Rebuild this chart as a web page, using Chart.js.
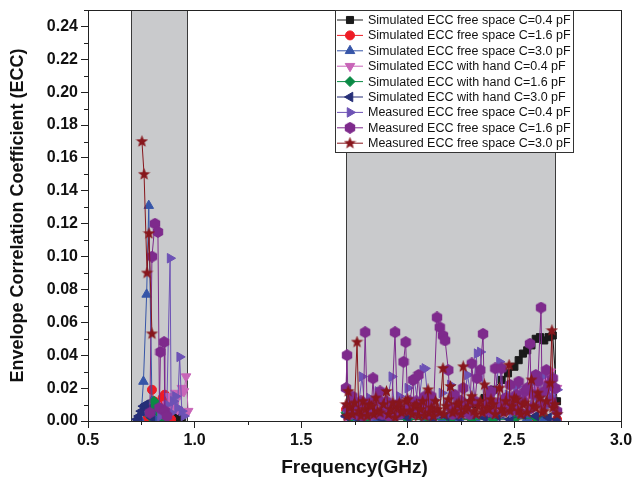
<!DOCTYPE html>
<html>
<head>
<meta charset="utf-8">
<script src="https://cdn.jsdelivr.net/npm/chart.js@4.4.1/dist/chart.umd.min.js"></script>
<style>
html, body { margin: 0; padding: 0; background: #fff; }
</style>
</head>
<body>
<canvas id="eccChart" width="632" height="483"></canvas>
<script>
// series names (legend order)
var seriesNames = [
    'Simulated ECC free space C=0.4 pF',
    'Simulated ECC free space C=1.6 pF',
    'Simulated ECC free space C=3.0 pF',
    'Simulated ECC with hand C=0.4 pF',
    'Simulated ECC with hand C=1.6 pF',
    'Simulated ECC with hand C=3.0 pF',
    'Measured ECC free space C=0.4 pF',
    'Measured ECC free space C=1.6 pF',
    'Measured ECC free space C=3.0 pF'
];

// axis ticks
var xTickValues = [0.5, 1.0, 1.5, 2.0, 2.5, 3.0];
var yTickValues = [0, 0.02, 0.04, 0.06, 0.08, 0.10, 0.12, 0.14, 0.16, 0.18, 0.20, 0.22, 0.24];

// shaded operating bands (GHz)
var bandStart = [0.70, 1.71];
var bandEnd = [0.965, 2.69];

// null = gap between the two bands
var freqSimFree04 = [0.84, 0.86, 0.88, 0.90, 0.92, 0.94, 1.3, 1.72, 1.80, 1.90, 2.00, 2.10, 2.20, 2.26, 2.32, 2.36, 2.40, 2.44, 2.47, 2.50, 2.52, 2.54, 2.56, 2.58, 2.60, 2.62, 2.64, 2.66, 2.68, 2.70];
var eccSimFree04 = [0.001, 0.002, 0.003, 0.002, 0.002, 0.001, null, 0.001, 0.001, 0.001, 0.002, 0.002, 0.003, 0.006, 0.010, 0.014, 0.019, 0.025, 0.029, 0.033, 0.037, 0.041, 0.043, 0.046, 0.050, 0.051, 0.049, 0.051, 0.052, 0.012];

var freqSimFree16 = [0.78, 0.79, 0.80, 0.81, 0.82, 0.83, 0.84, 0.85, 0.86, 0.87, 0.88, 0.89, 1.3, 1.71, 1.73, 1.80, 1.90, 2.00, 2.10, 2.20, 2.30, 2.40, 2.50, 2.60, 2.70];
var eccSimFree16 = [0.002, 0.010, 0.019, 0.012, 0.004, 0.002, 0.008, 0.014, 0.016, 0.012, 0.005, 0.001, null, 0.007, 0.003, 0.001, 0.001, 0.001, 0.001, 0.001, 0.001, 0.002, 0.001, 0.002, 0.001];

var freqSimFree30 = [0.74, 0.75, 0.76, 0.775, 0.785, 0.80, 0.81, 0.82, 1.3, 1.71, 1.76, 1.84, 1.92, 2.00, 2.08, 2.16, 2.24, 2.32, 2.40, 2.48, 2.56, 2.64, 2.70];
var eccSimFree30 = [0.002, 0.005, 0.024, 0.077, 0.131, 0.012, 0.004, 0.002, null, 0.004, 0.002, 0.001, 0.002, 0.001, 0.002, 0.001, 0.002, 0.001, 0.002, 0.001, 0.002, 0.002, 0.001];

var freqSimHand04 = [0.86, 0.87, 0.88, 0.89, 0.90, 0.91, 0.92, 0.93, 0.94, 0.95, 0.96, 0.97, 1.3, 1.71, 1.80, 1.90, 2.00, 2.10, 2.20, 2.30, 2.40, 2.46, 2.52, 2.56, 2.60, 2.64, 2.67, 2.70];
var eccSimHand04 = [0.004, 0.010, 0.015, 0.008, 0.011, 0.017, 0.007, 0.016, 0.020, 0.018, 0.027, 0.006, null, 0.002, 0.001, 0.002, 0.001, 0.002, 0.003, 0.004, 0.006, 0.008, 0.012, 0.015, 0.019, 0.025, 0.030, 0.020];

var freqSimHand16 = [0.79, 0.80, 0.81, 0.82, 0.83, 0.84, 0.85, 0.86, 1.3, 1.71, 1.73, 1.80, 1.90, 2.00, 2.10, 2.20, 2.30, 2.40, 2.50, 2.60, 2.70];
var eccSimHand16 = [0.003, 0.008, 0.012, 0.010, 0.007, 0.004, 0.002, 0.001, null, 0.005, 0.002, 0.001, 0.001, 0.001, 0.001, 0.001, 0.001, 0.001, 0.001, 0.002, 0.005];

var freqSimHand30 = [0.73, 0.74, 0.75, 0.76, 0.77, 0.78, 0.79, 0.80, 1.3, 1.71, 1.76, 1.82, 1.88, 1.94, 2.00, 2.06, 2.12, 2.18, 2.24, 2.30, 2.36, 2.42, 2.48, 2.54, 2.60, 2.66, 2.70];
var eccSimHand30 = [0.001, 0.003, 0.006, 0.009, 0.010, 0.007, 0.004, 0.002, null, 0.003, 0.002, 0.004, 0.001, 0.003, 0.002, 0.004, 0.001, 0.003, 0.002, 0.004, 0.002, 0.003, 0.001, 0.004, 0.003, 0.002, 0.001];

var freqMeas04 = [0.84, 0.86, 0.87, 0.885, 0.89, 0.90, 0.91, 0.92, 0.93, 0.94, 0.95, 1.3,
    1.71, 1.73, 1.75, 1.77, 1.785, 1.80, 1.82, 1.84, 1.86, 1.88, 1.90, 1.925, 1.94, 1.96, 1.98, 2.00, 2.03, 2.05, 2.07, 2.08,
    2.10, 2.12, 2.14, 2.16, 2.18, 2.20, 2.22, 2.24, 2.26, 2.28, 2.30, 2.325, 2.34, 2.36, 2.38, 2.40, 2.43, 2.45, 2.47, 2.49,
    2.51, 2.53, 2.55, 2.57, 2.59, 2.61, 2.63, 2.65, 2.67, 2.70];
var eccMeas04 = [0.003, 0.006, 0.010, 0.099, 0.005, 0.012, 0.015, 0.008, 0.039, 0.006, 0.003, null,
    0.008, 0.012, 0.004, 0.010, 0.027, 0.006, 0.014, 0.003, 0.018, 0.007, 0.011, 0.027, 0.005, 0.015, 0.008, 0.020, 0.025, 0.009, 0.031, 0.032,
    0.006, 0.013, 0.004, 0.017, 0.010, 0.022, 0.005, 0.014, 0.009, 0.028, 0.012, 0.041, 0.042, 0.007, 0.019, 0.010, 0.036, 0.008, 0.016, 0.005,
    0.021, 0.011, 0.018, 0.006, 0.024, 0.013, 0.027, 0.009, 0.015, 0.019];

var freqMeas16 = [0.79, 0.80, 0.814, 0.828, 0.835, 0.84, 0.857, 0.86, 0.87, 1.3,
    1.71, 1.715, 1.72, 1.73, 1.74, 1.75, 1.76, 1.77, 1.78, 1.79, 1.80, 1.81, 1.82, 1.83, 1.837, 1.845, 1.85, 1.86, 1.87, 1.88,
    1.89, 1.90, 1.91, 1.925, 1.94, 1.95, 1.96, 1.97, 1.98, 1.99, 2.00, 2.01, 2.025, 2.03, 2.04, 2.05, 2.06, 2.07, 2.08, 2.09,
    2.10, 2.11, 2.12, 2.137, 2.15, 2.165, 2.175, 2.19, 2.20, 2.21, 2.22, 2.23, 2.24, 2.25, 2.26, 2.27, 2.28, 2.29, 2.30, 2.315,
    2.325, 2.34, 2.353, 2.36, 2.37, 2.38, 2.39, 2.40, 2.41, 2.425, 2.44, 2.45, 2.46, 2.47, 2.48, 2.49, 2.50, 2.51, 2.52, 2.53,
    2.54, 2.55, 2.56, 2.573, 2.58, 2.59, 2.60, 2.61, 2.625, 2.63, 2.64, 2.65, 2.66, 2.67, 2.68, 2.69, 2.70];
var eccMeas16 = [0.005, 0.100, 0.120, 0.115, 0.008, 0.042, 0.048, 0.006, 0.003, null,
    0.020, 0.040, 0.008, 0.004, 0.015, 0.006, 0.004, 0.009, 0.012, 0.003, 0.054, 0.006, 0.011, 0.010, 0.026, 0.004, 0.005, 0.013, 0.018, 0.004,
    0.008, 0.012, 0.003, 0.009, 0.054, 0.010, 0.004, 0.006, 0.036, 0.048, 0.007, 0.012, 0.025, 0.005, 0.012, 0.028, 0.006, 0.009, 0.015, 0.004,
    0.010, 0.015, 0.006, 0.063, 0.057, 0.052, 0.049, 0.031, 0.008, 0.004, 0.016, 0.009, 0.005, 0.012, 0.020, 0.006, 0.010, 0.004, 0.035, 0.012,
    0.026, 0.031, 0.053, 0.006, 0.009, 0.014, 0.018, 0.005, 0.032, 0.011, 0.032, 0.006, 0.014, 0.009, 0.022, 0.012, 0.007, 0.016, 0.024, 0.005,
    0.012, 0.018, 0.020, 0.047, 0.008, 0.016, 0.028, 0.024, 0.069, 0.010, 0.018, 0.031, 0.022, 0.012, 0.026, 0.020, 0.006];

var freqMeas30 = [0.753, 0.763, 0.777, 0.786, 0.80, 1.3,
    1.71, 1.715, 1.72, 1.73, 1.74, 1.75, 1.762, 1.77, 1.78, 1.79, 1.80, 1.81, 1.82, 1.83, 1.84, 1.85, 1.86, 1.87, 1.885, 1.90,
    1.91, 1.92, 1.93, 1.94, 1.95, 1.96, 1.97, 1.98, 1.99, 2.00, 2.01, 2.02, 2.03, 2.04, 2.05, 2.06, 2.07, 2.08, 2.095, 2.10,
    2.11, 2.12, 2.13, 2.14, 2.15, 2.165, 2.17, 2.18, 2.19, 2.20, 2.21, 2.22, 2.23, 2.24, 2.25, 2.26, 2.27, 2.28, 2.29, 2.30,
    2.31, 2.32, 2.33, 2.34, 2.35, 2.36, 2.37, 2.38, 2.39, 2.40, 2.41, 2.43, 2.44, 2.45, 2.46, 2.475, 2.48, 2.49, 2.50, 2.51,
    2.52, 2.53, 2.54, 2.55, 2.56, 2.58, 2.59, 2.60, 2.61, 2.62, 2.63, 2.64, 2.65, 2.667, 2.676, 2.68, 2.69, 2.70];
var eccMeas30 = [0.170, 0.150, 0.090, 0.114, 0.053, null,
    0.010, 0.003, 0.018, 0.008, 0.004, 0.011, 0.048, 0.006, 0.003, 0.012, 0.007, 0.003, 0.010, 0.009, 0.004, 0.014, 0.006, 0.005, 0.010, 0.018,
    0.004, 0.007, 0.011, 0.002, 0.008, 0.011, 0.005, 0.006, 0.012, 0.013, 0.006, 0.004, 0.009, 0.010, 0.003, 0.007, 0.012, 0.003, 0.019, 0.005,
    0.008, 0.003, 0.012, 0.007, 0.005, 0.032, 0.004, 0.009, 0.013, 0.021, 0.005, 0.006, 0.010, 0.011, 0.004, 0.033, 0.007, 0.008, 0.012, 0.015,
    0.006, 0.004, 0.009, 0.012, 0.005, 0.022, 0.008, 0.007, 0.013, 0.010, 0.004, 0.020, 0.007, 0.005, 0.012, 0.034, 0.006, 0.009, 0.014, 0.013,
    0.006, 0.004, 0.010, 0.011, 0.005, 0.025, 0.009, 0.008, 0.017, 0.014, 0.005, 0.006, 0.012, 0.023, 0.055, 0.008, 0.010, 0.004];

var seriesFreq = [freqSimFree04, freqSimFree16, freqSimFree30, freqSimHand04, freqSimHand16, freqSimHand30, freqMeas04, freqMeas16, freqMeas30];
var seriesEcc = [eccSimFree04, eccSimFree16, eccSimFree30, eccSimHand04, eccSimHand16, eccSimHand30, eccMeas04, eccMeas16, eccMeas30];

var colors = ['#1a1a1a', '#ee1c25', '#3655a8', '#c865b8', '#0a8a45', '#262f78', '#6d52b5', '#7e2a8c', '#87161c'];

// custom filled markers (hexagon, star)
function makeMarker(kind, color, size) {
    var cv = document.createElement('canvas');
    cv.width = size; cv.height = size;
    var g = cv.getContext('2d');
    var r = size / 2;
    g.fillStyle = color;
    g.beginPath();
    var n = kind === 'hex' ? 6 : 10;
    for (var k = 0; k < n; k++) {
        var rr = r;
        if (kind === 'star' && k % 2) rr = r * 0.42;
        var ang = -Math.PI / 2 + k * 2 * Math.PI / n;
        g.lineTo(r + rr * Math.cos(ang), r + rr * Math.sin(ang));
    }
    g.closePath();
    g.fill();
    return cv;
}

var markers = [
    { style: 'rect', rot: 0, r: 5 },
    { style: 'circle', rot: 0, r: 4.5 },
    { style: 'triangle', rot: 0, r: 5.5 },
    { style: 'triangle', rot: 180, r: 5.5 },
    { style: 'rectRot', rot: 0, r: 5 },
    { style: 'triangle', rot: 270, r: 5.5 },
    { style: 'triangle', rot: 90, r: 5.5 },
    { style: makeMarker('hex', colors[7], 12), rot: 0, r: 6 },
    { style: makeMarker('star', colors[8], 13), rot: 0, r: 6 }
];

var datasets = seriesNames.map(function (name, i) {
    return {
        label: name,
        data: seriesFreq[i].map(function (f, j) { return { x: f, y: seriesEcc[i][j] }; }),
        borderColor: colors[i],
        backgroundColor: colors[i],
        borderWidth: 1,
        pointStyle: markers[i].style,
        pointRotation: markers[i].rot,
        pointRadius: markers[i].r,
        pointBackgroundColor: colors[i],
        pointBorderColor: colors[i],
        pointBorderWidth: 1,
        spanGaps: false,
        order: 9 - i
    };
});

var fontFam = '"Liberation Sans", Arial, sans-serif';

var decoPlugin = {
    id: 'deco',
    beforeDatasetsDraw: function (chart) {
        var c = chart.ctx, xs = chart.scales.x, a = chart.chartArea;
        c.save();
        for (var i = 0; i < bandStart.length; i++) {
            var x0 = Math.round(xs.getPixelForValue(bandStart[i]));
            var x1 = Math.round(xs.getPixelForValue(bandEnd[i]));
            c.fillStyle = '#c9cacc';
            c.fillRect(x0, a.top, x1 - x0, a.bottom - a.top);
            c.strokeStyle = '#3a3a3a';
            c.lineWidth = 1;
            c.beginPath();
            c.moveTo(x0 + 0.5, a.top); c.lineTo(x0 + 0.5, a.bottom);
            c.moveTo(x1 + 0.5, a.top); c.lineTo(x1 + 0.5, a.bottom);
            c.stroke();
        }
        c.restore();
    },
    afterDraw: function (chart) {
        var c = chart.ctx, a = chart.chartArea, xs = chart.scales.x, ys = chart.scales.y;
        c.save();
        // frame
        c.strokeStyle = '#222';
        c.lineWidth = 1;
        c.strokeRect(Math.round(a.left) + 0.5, Math.round(a.top) + 0.5, Math.round(a.right - a.left), Math.round(a.bottom - a.top));
        // minor ticks
        c.beginPath();
        for (var v = 0.01; v < 0.25; v += 0.02) {
            var py = Math.round(ys.getPixelForValue(v)) + 0.5;
            c.moveTo(a.left, py); c.lineTo(a.left - 4, py);
        }
        for (var u = 0.75; u < 3.0; u += 0.5) {
            var px = Math.round(xs.getPixelForValue(u)) + 0.5;
            c.moveTo(px, a.bottom); c.lineTo(px, a.bottom + 4);
        }
        c.stroke();

        // legend
        var bx = 335, by = Math.round(a.top), bw = 238, bh = 142;
        c.fillStyle = '#fff';
        c.fillRect(bx, by, bw, bh);
        c.strokeStyle = '#333';
        c.strokeRect(bx + 0.5, by + 0.5, bw, bh);
        c.font = '12.5px ' + fontFam;
        c.textBaseline = 'middle';
        for (var i = 0; i < seriesNames.length; i++) {
            var ry = by + 10 + i * 15.4;
            c.strokeStyle = colors[i];
            c.fillStyle = colors[i];
            c.lineWidth = 1;
            c.beginPath();
            c.moveTo(bx + 2, ry); c.lineTo(bx + 28, ry);
            c.stroke();
            Chart.helpers.drawPoint(c, {
                pointStyle: markers[i].style,
                rotation: markers[i].rot,
                radius: markers[i].r,
                borderWidth: 1
            }, bx + 15, ry);
            c.fillStyle = '#111';
            c.fillText(seriesNames[i], bx + 33, ry + 0.5);
        }
        c.restore();
    }
};

var ctx = document.getElementById('eccChart').getContext('2d');
var eccChart = new Chart(ctx, {
    type: 'line',
    data: { datasets: datasets },
    options: {
        responsive: false,
        animation: false,
        layout: { padding: { top: 10, right: 11, left: 0, bottom: 0 } },
        plugins: {
            legend: { display: false },
            tooltip: { enabled: false }
        },
        scales: {
            x: {
                type: 'linear',
                min: 0.5,
                max: 3.0,
                afterFit: function (s) { s.height = 62; s.paddingLeft = 0; s.paddingRight = 0; },
                afterBuildTicks: function (s) { s.ticks = xTickValues.map(function (v) { return { value: v }; }); },
                grid: { drawOnChartArea: false, drawTicks: true, tickLength: 7, tickColor: '#222' },
                border: { display: true, color: '#222', width: 1 },
                ticks: {
                    padding: 3,
                    color: '#111',
                    font: { family: fontFam, size: 16, weight: 'bold' },
                    callback: function (v) { return Number(v).toFixed(1); }
                },
                title: {
                    display: true,
                    text: 'Frequency(GHz)',
                    color: '#111',
                    font: { family: fontFam, size: 19, weight: 'bold' },
                    padding: { top: 0, bottom: 4 }
                }
            },
            y: {
                type: 'linear',
                min: 0,
                max: 0.25,
                afterFit: function (s) { s.width = 88; s.paddingTop = 0; s.paddingBottom = 0; },
                afterBuildTicks: function (s) { s.ticks = yTickValues.map(function (v) { return { value: v }; }); },
                grid: { drawOnChartArea: false, drawTicks: true, tickLength: 7, tickColor: '#222' },
                border: { display: true, color: '#222', width: 1 },
                ticks: {
                    padding: 3,
                    color: '#111',
                    font: { family: fontFam, size: 16, weight: 'bold' },
                    callback: function (v) { return Number(v).toFixed(2); }
                },
                title: {
                    display: true,
                    text: 'Envelope Correlation Coefficient (ECC)',
                    color: '#111',
                    font: { family: fontFam, size: 18, weight: 'bold' },
                    padding: { top: 7, bottom: 0 }
                }
            }
        }
    },
    plugins: [decoPlugin]
});
</script>
</body>
</html>
